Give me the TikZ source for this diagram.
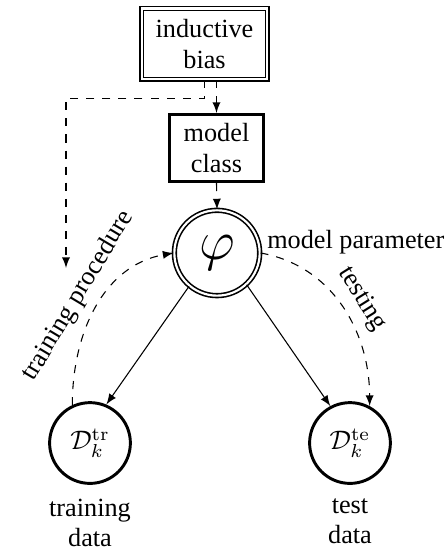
\documentclass[tikz,border=0pt]{standalone}
\usepackage[no-math]{fontspec}
\setmainfont{Liberation Serif}
\usetikzlibrary{positioning}

\begin{document}
\begin{tikzpicture}[
        font=\fontsize{9.8pt}{11.3pt}\selectfont,
        dbl/.style={double, double distance=0.8pt, line width=0.6pt},
        biasbox/.style={draw, dbl, align=center, minimum width=1.65cm, minimum height=0.93cm, inner sep=1pt},
        classbox/.style={draw, line width=1.1pt, align=center, minimum width=1.23cm, minimum height=0.88cm, inner sep=1pt},
        parnode/.style={draw, dbl, circle, minimum size=1.12cm, inner sep=0pt},
        datanode/.style={draw, line width=1.1pt, circle, minimum size=1.06cm, inner sep=0pt},
        capnode/.style={align=center, inner sep=2pt}
    ]
        \useasboundingbox (0,0) rectangle (5.879,-7.218);

        \node[biasbox] (bias) at (2.684, -0.577) {inductive\\bias};
        \node[classbox] (class) at (2.841, -1.942) {model\\class};
        \node[parnode] (phi) at (2.848, -3.320) {\huge $\varphi$};
        \node[right=-1pt of phi, yshift=4pt] (param) {model parameter};
        \node[datanode] (dtr) at (1.181, -5.814) {$\mathcal{D}_k^{\mathrm{tr}}$};
        \node[datanode] (dte) at (4.593, -5.814) {$\mathcal{D}_k^{\mathrm{te}}$};
        \node[capnode, below=3pt of dtr] (trdata) {training\\data};
        \node[capnode, below=3pt of dte] (tedata) {test\\data};
        \coordinate (trproc) at (0.866, -3.517);

        \draw[dashed, -latex] (bias.south) -- ++(0,-0.24) -| (trproc);
        \draw[dashed, -latex] (bias.south -| class.north) -- (class.north);
        \draw[dashed, -latex] (class.south) -- (phi.north);

        \draw[-latex] (phi.-130) -- (dtr.67);
        \draw[-latex] (phi.-47) -- (dte.118);

        \draw[dashed, -latex] (dtr.115) to[out=90, in=190] node[sloped, above] {training procedure} (phi.west);
        \draw[dashed, -latex] (phi.east) to[out=-10, in=90] node[sloped, above, pos=0.52] {testing} (dte.62);
    \end{tikzpicture}
\end{document}
